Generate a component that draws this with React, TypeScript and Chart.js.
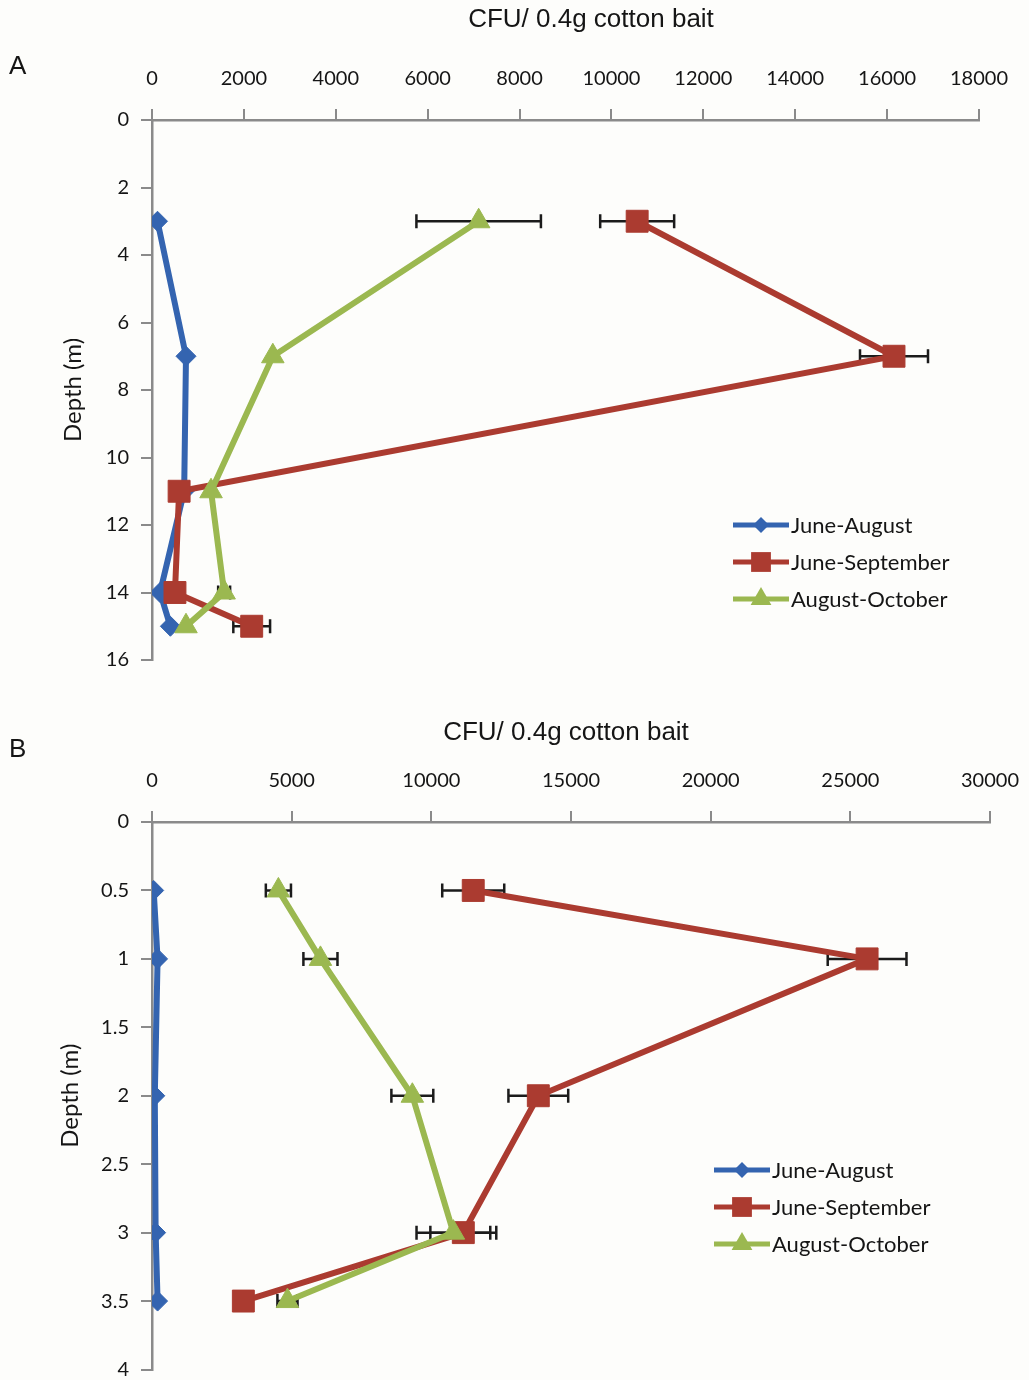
import React, { useEffect, useRef } from 'react';
import { Chart, registerables } from 'chart.js';

Chart.register(...registerables);

// ---------- Data ----------
const seriesNames = ['June-August', 'June-September', 'August-October'];

// Panel A
const depthsA = [3, 7, 11, 14, 15];
const juneAugustA = [120, 740, 700, 175, 400];
const juneSeptemberA = [10560, 16150, 590, 500, 2170];
const augustOctoberA = [7110, 2630, 1285, 1570, 740];
const juneAugustErrA = [0, 0, 0, 0, 0];
const juneSeptemberErrA = [805, 740, 0, 0, 400];
const augustOctoberErrA = [1355, 0, 0, 130, 0];
const xTicksA = [0, 2000, 4000, 6000, 8000, 10000, 12000, 14000, 16000, 18000];
const yTicksA = [0, 2, 4, 6, 8, 10, 12, 14, 16];

// Panel B
const depthsB = [0.5, 1, 2, 3, 3.5];
const juneAugustB = [60, 200, 100, 130, 200];
const juneSeptemberB = [11500, 25600, 13830, 11145, 3270];
const augustOctoberB = [4525, 6030, 9320, 10790, 4850];
const juneAugustErrB = [0, 0, 0, 0, 0];
const juneSeptemberErrB = [1110, 1410, 1070, 1180, 0];
const augustOctoberErrB = [450, 610, 750, 1320, 360];
const xTicksB = [0, 5000, 10000, 15000, 20000, 25000, 30000];
const yTicksB = [0, 0.5, 1, 1.5, 2, 2.5, 3, 3.5, 4];

const xTitle = 'CFU/ 0.4g cotton bait';
const yTitle = 'Depth (m)';

// ---------- Styles ----------
const COLORS = ['#3464b0', '#ab3b30', '#9bb850'];
const POINT_STYLES = ['rectRot', 'rect', 'triangle'];
const POINT_RADII = [10, 15.5, 13];
const LEGEND_RADII = [8, 14, 12];
const DRAW_ORDER = [3, 2, 1];
const AXIS_GRAY = '#8a8a8a';
const TEXT = '#151515';

function drawMarker(ctx: CanvasRenderingContext2D, style: string, x: number, y: number, r: number, color: string) {
  ctx.fillStyle = color;
  ctx.beginPath();
  if (style === 'rectRot') {
    ctx.moveTo(x, y - r);
    ctx.lineTo(x + r, y);
    ctx.lineTo(x, y + r);
    ctx.lineTo(x - r, y);
  } else if (style === 'rect') {
    const s = r * Math.SQRT1_2;
    ctx.rect(x - s, y - s, 2 * s, 2 * s);
  } else {
    ctx.moveTo(x, y - r);
    ctx.lineTo(x + 0.866 * r, y + r / 2);
    ctx.lineTo(x - 0.866 * r, y + r / 2);
  }
  ctx.closePath();
  ctx.fill();
}

const errorBarPlugin = {
  id: 'errorBars',
  beforeDatasetsDraw(chart: any) {
    const { ctx } = chart;
    const xs = chart.scales.x;
    const ys = chart.scales.y;
    ctx.save();
    ctx.strokeStyle = '#1b1b1b';
    ctx.lineWidth = 2.5;
    chart.data.datasets.forEach((ds: any) => {
      const errs: number[] = ds.errors;
      if (!errs) return;
      ds.data.forEach((p: any, i: number) => {
        const e = errs[i];
        if (!e) return;
        const y = ys.getPixelForValue(p.y);
        const x1 = xs.getPixelForValue(p.x - e);
        const x2 = xs.getPixelForValue(p.x + e);
        ctx.beginPath();
        ctx.moveTo(x1, y);
        ctx.lineTo(x2, y);
        ctx.moveTo(x1, y - 7);
        ctx.lineTo(x1, y + 7);
        ctx.moveTo(x2, y - 7);
        ctx.lineTo(x2, y + 7);
        ctx.stroke();
      });
    });
    ctx.restore();
  },
};

const seriesLegendPlugin = {
  id: 'seriesLegend',
  afterDraw(chart: any, _args: any, opts: any) {
    const { ctx } = chart;
    const { x, y, gap } = opts;
    ctx.save();
    chart.data.datasets.forEach((ds: any, i: number) => {
      const yy = y + i * gap;
      ctx.strokeStyle = ds.borderColor;
      ctx.lineWidth = 5;
      ctx.beginPath();
      ctx.moveTo(x, yy);
      ctx.lineTo(x + 56, yy);
      ctx.stroke();
      drawMarker(ctx, ds.pointStyle, x + 28, yy, LEGEND_RADII[i], ds.borderColor);
      ctx.fillStyle = TEXT;
      ctx.font = '22px Lato';
      ctx.textBaseline = 'middle';
      ctx.textAlign = 'left';
      ctx.fillText(ds.label, x + 58, yy + 1);
    });
    ctx.restore();
  },
};

interface PanelCfg {
  depths: number[];
  series: number[][];
  errors: number[][];
  xTicks: number[];
  yTicks: number[];
  xAxisHeight: number;
  yAxisWidth: number;
  padRight: number;
  padBottom: number;
  yTitlePad: number;
  legendX: number;
  legendY: number;
}

function buildConfig(c: PanelCfg): any {
  const datasets = c.series.map((vals, i) => ({
    label: seriesNames[i],
    data: vals.map((v, j) => ({ x: v, y: c.depths[j] })),
    errors: c.errors[i],
    showLine: true,
    borderColor: COLORS[i],
    backgroundColor: COLORS[i],
    borderWidth: 6,
    pointStyle: POINT_STYLES[i],
    pointRadius: POINT_RADII[i],
    pointBorderWidth: 1,
    pointBorderColor: COLORS[i],
    pointBackgroundColor: COLORS[i],
    order: DRAW_ORDER[i],
    tension: 0,
  }));
  const xMin = c.xTicks[0];
  const xMax = c.xTicks[c.xTicks.length - 1];
  const yMin = c.yTicks[0];
  const yMax = c.yTicks[c.yTicks.length - 1];
  return {
    type: 'scatter',
    data: { datasets },
    options: {
      animation: false,
      responsive: false,
      devicePixelRatio: 1,
      layout: { padding: { left: 0, top: 0, right: c.padRight, bottom: c.padBottom } },
      plugins: {
        legend: { display: false },
        tooltip: { enabled: false },
        seriesLegend: { x: c.legendX, y: c.legendY, gap: 37 },
      },
      scales: {
        x: {
          type: 'linear',
          position: 'top',
          min: xMin,
          max: xMax,
          afterBuildTicks: (s: any) => {
            s.ticks = c.xTicks.map((v) => ({ value: v }));
          },
          afterFit: (s: any) => {
            s.height = c.xAxisHeight;
            s.paddingLeft = 0;
            s.paddingRight = 0;
          },
          ticks: {
            callback: (v: any) => String(v),
            font: { family: 'Lato', size: 20 },
            color: TEXT,
            padding: 18,
            maxRotation: 0,
            autoSkip: false,
          },
          grid: {
            drawOnChartArea: false,
            drawTicks: true,
            tickLength: 11,
            color: AXIS_GRAY,
            lineWidth: 2,
          },
          border: { display: true, color: AXIS_GRAY, width: 2.5 },
        },
        y: {
          type: 'linear',
          position: 'left',
          reverse: true,
          min: yMin,
          max: yMax,
          afterBuildTicks: (s: any) => {
            s.ticks = c.yTicks.map((v) => ({ value: v }));
          },
          afterFit: (s: any) => {
            s.width = c.yAxisWidth;
            s.paddingTop = 0;
            s.paddingBottom = 0;
          },
          ticks: {
            callback: (v: any) => String(v),
            font: { family: 'Lato', size: 20 },
            color: TEXT,
            padding: 12,
            autoSkip: false,
          },
          grid: {
            drawOnChartArea: false,
            drawTicks: true,
            tickLength: 11,
            color: AXIS_GRAY,
            lineWidth: 2,
          },
          border: { display: true, color: AXIS_GRAY, width: 2.5 },
          title: {
            display: true,
            text: yTitle,
            font: { family: 'Lato', size: 24 },
            color: TEXT,
            padding: { top: c.yTitlePad, bottom: 0 },
          },
        },
      },
    },
    plugins: [errorBarPlugin, seriesLegendPlugin],
  };
}

const TOP_B = 696;

const cfgA: PanelCfg = {
  depths: depthsA,
  series: [juneAugustA, juneSeptemberA, augustOctoberA],
  errors: [juneAugustErrA, juneSeptemberErrA, augustOctoberErrA],
  xTicks: xTicksA,
  yTicks: yTicksA,
  xAxisHeight: 120,
  yAxisWidth: 152,
  padRight: 50,
  padBottom: 30,
  yTitlePad: 59,
  legendX: 733,
  legendY: 525,
};

const cfgB: PanelCfg = {
  depths: depthsB,
  series: [juneAugustB, juneSeptemberB, augustOctoberB],
  errors: [juneAugustErrB, juneSeptemberErrB, augustOctoberErrB],
  xTicks: xTicksB,
  yTicks: yTicksB,
  xAxisHeight: 822 - TOP_B,
  yAxisWidth: 152,
  padRight: 39,
  padBottom: 5,
  yTitlePad: 56,
  legendX: 714,
  legendY: 1170 - TOP_B,
};

const textBase: React.CSSProperties = {
  position: 'absolute',
  fontFamily: '"Liberation Sans", Arial, sans-serif',
  fontSize: 26,
  lineHeight: '26px',
  color: TEXT,
  whiteSpace: 'nowrap',
};

export default function App() {
  const refA = useRef<HTMLCanvasElement>(null);
  const refB = useRef<HTMLCanvasElement>(null);

  useEffect(() => {
    let charts: Chart[] = [];
    let cancelled = false;
    const make = () => {
      if (cancelled) return;
      if (refA.current) charts.push(new Chart(refA.current, buildConfig(cfgA)));
      if (refB.current) charts.push(new Chart(refB.current, buildConfig(cfgB)));
    };
    const fonts = (document as any).fonts;
    if (fonts && fonts.load) {
      Promise.all([fonts.load('20px Lato'), fonts.load('24px Lato')]).then(make, make);
    } else {
      make();
    }
    return () => {
      cancelled = true;
      charts.forEach((c) => c.destroy());
      charts = [];
    };
  }, []);

  return (
    <div
      style={{
        position: 'absolute',
        left: 0,
        top: 0,
        width: 1029,
        height: 1380,
        background: '#fdfdfb',
        overflow: 'hidden',
      }}
    >
      <canvas
        ref={refA}
        width={1029}
        height={690}
        style={{ position: 'absolute', left: 0, top: 0, width: 1029, height: 690 }}
      />
      <canvas
        ref={refB}
        width={1029}
        height={690}
        style={{ position: 'absolute', left: 0, top: TOP_B, width: 1029, height: 690 }}
      />
      <div style={{ ...textBase, left: 9, top: 52 }}>A</div>
      <div style={{ ...textBase, left: 591, top: 5, transform: 'translateX(-50%)' }}>{xTitle}</div>
      <div style={{ ...textBase, left: 9, top: 735 }}>B</div>
      <div style={{ ...textBase, left: 566, top: 718, transform: 'translateX(-50%)' }}>{xTitle}</div>
    </div>
  );
}
